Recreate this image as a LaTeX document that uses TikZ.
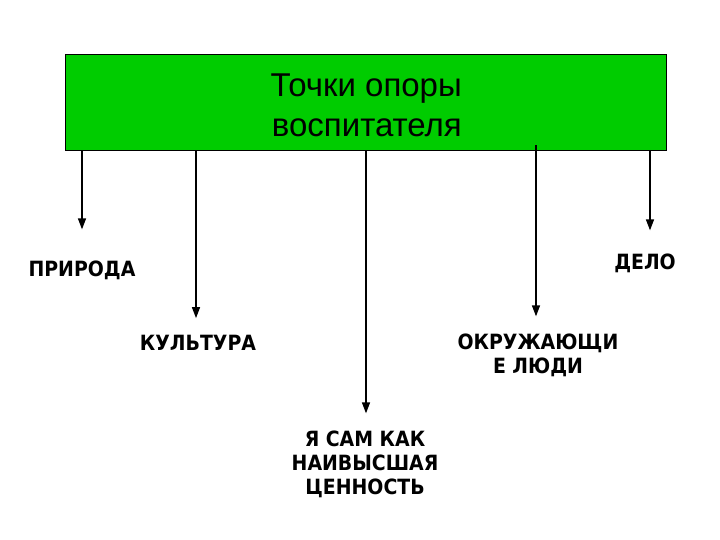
\documentclass[tikz,border=0pt]{standalone}
\usepackage{fontspec}
\setmainfont{Liberation Sans}
\newfontfamily\labelfont{DejaVu Sans Condensed}
\usetikzlibrary{arrows.meta,positioning}
\definecolor{boxgreen}{RGB}{0,204,0}

\tikzset{
  pillar/.style={line width=1.4pt, -{Triangle[width=8pt,length=11pt]}},
  goal/.style={font=\labelfont\bfseries\fontsize{21}{24}\selectfont, align=center, inner sep=0pt}
}

\begin{document}
\begin{tikzpicture}[x=1pt, y=-1pt]
  \useasboundingbox (0,0) rectangle (720,540);
  \node [draw=black, fill=boxgreen, minimum width=601pt, minimum height=96pt] (box) at (365.5,102) {};
  \node [font=\fontsize{33}{40}\selectfont, align=right, inner sep=0pt, anchor=east]
        (title) at (462,105) {Точки опоры\\ воспитателя};
  \node [goal] (nature) at (82,270) {ПРИРОДА};
  \node [goal] (work) at (645,263) {ДЕЛО};
  \node [goal] (culture) at (198,343) {КУЛЬТУРА};
  \node [goal] (people) at (538,355) {ОКРУЖАЮЩИ\\Е ЛЮДИ};
  \node [goal] (self) at (365,464) {Я САМ КАК\\НАИВЫСШАЯ\\ЦЕННОСТЬ};
  \draw [pillar, shorten >=31pt] (box.south -| 82,0) -- (nature.north);
  \draw [pillar, shorten >=23pt] (box.south -| 650,0) -- (work.north -| 650,0);
  \draw [pillar, shorten >=17pt] (box.south -| 196,0) -- (culture.north -| 196,0);
  \draw [pillar, shorten >=17pt] ([yshift=5pt]box.south -| 536,0) -- (people.north -| 536,0);
  \draw [pillar, shorten >=17pt] (box.south -| 366,0) -- (self.north -| 366,0);
\end{tikzpicture}
\end{document}
